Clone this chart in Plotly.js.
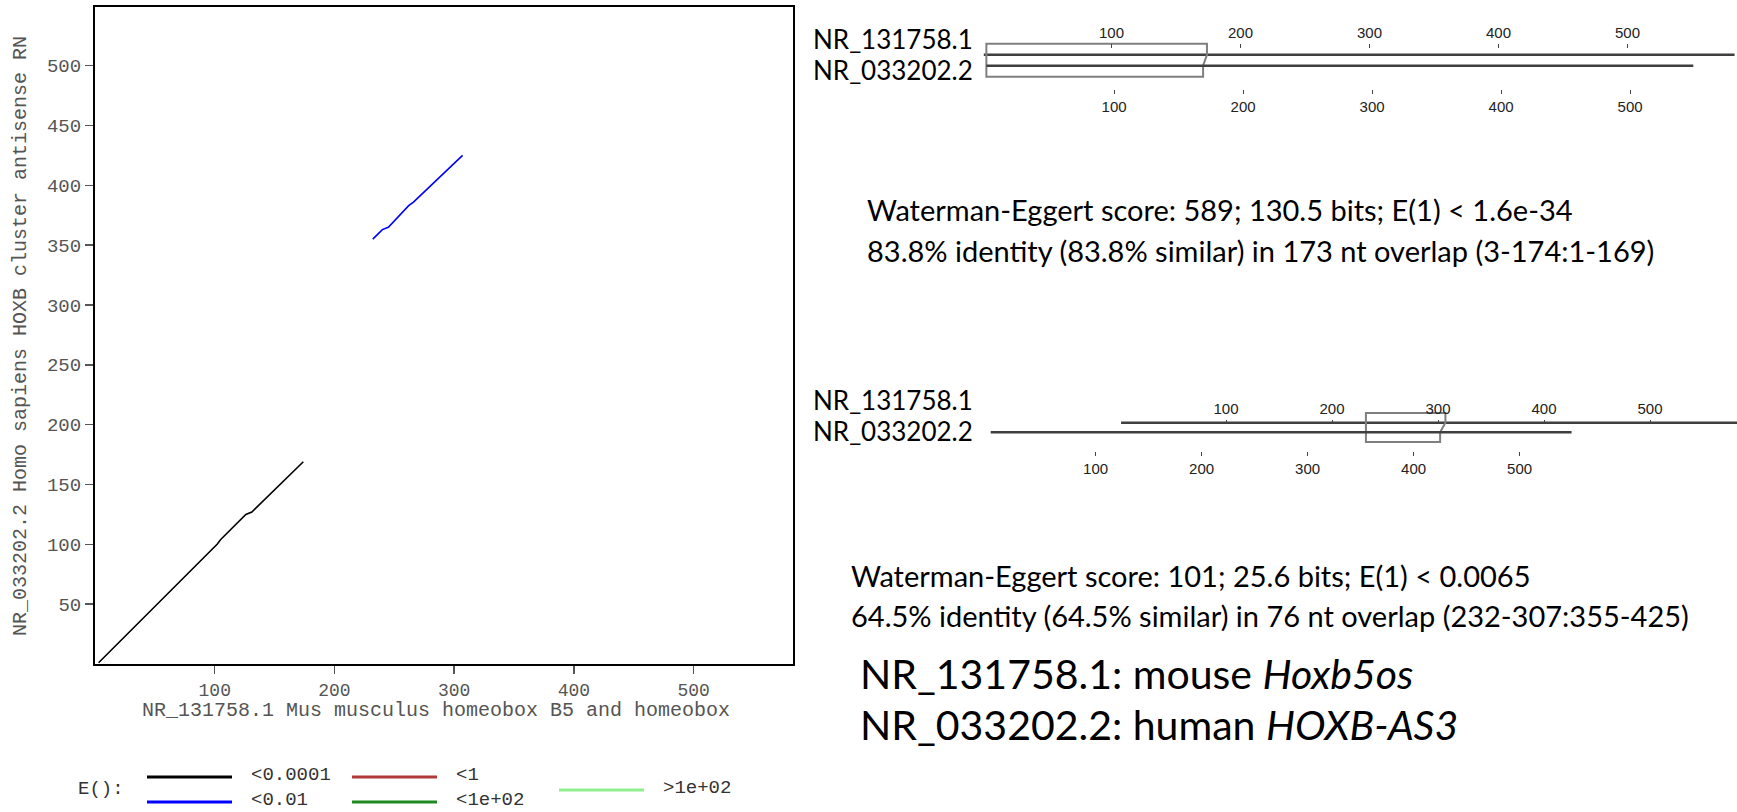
<!DOCTYPE html>
<html>
<head>
<meta charset="utf-8">
<script src="https://cdn.plot.ly/plotly-3.0.1.min.js"></script>
<style>
  html, body { margin: 0; padding: 0; background: #ffffff; }
  #plot { width: 1737px; height: 812px; }
</style>
</head>
<body>
<div id="plot"></div>
<script>
// ---- dot plot: NR_131758.1 (x) against NR_033202.2 (y) ----
const mouseLen = 583;
const humanLen = 549;
const hitBlackX = [3, 102, 105, 126, 131, 174];
const hitBlackY = [1, 100, 104, 125, 127, 169];
const hitBlueX = [232, 240, 245, 262, 266, 307];
const hitBlueY = [355, 363, 365, 383, 386, 425];
const dotTicksX = [100, 200, 300, 400, 500];
const dotTicksY = [50, 100, 150, 200, 250, 300, 350, 400, 450, 500];
const dotTitleX = 'NR_131758.1 Mus musculus homeobox B5 and homeobox';
const dotTitleY = 'NR_033202.2 Homo sapiens HOXB cluster antisense RN';

// E() colour key
const legendLabels = ['<0.0001', '<0.01', '<1', '<1e+02', '>1e+02'];
const legendColors = ['#000000', '#0000ff', '#b03a3a', '#1f8a1f', '#90ee90'];

// ---- alignment overviews ----
const seqNames = ['NR_131758.1', 'NR_033202.2'];
const seqLens = [583, 549];
const alnTop = [[3, 174], [232, 307]];
const alnBot = [[1, 169], [355, 425]];
const overviewTicks = [100, 200, 300, 400, 500];
const scoreText1 = ['Waterman-Eggert score: 589; 130.5 bits; E(1) < 1.6e-34',
                    '83.8% identity (83.8% similar) in 173 nt overlap (3-174:1-169)'];
const scoreText2 = ['Waterman-Eggert score: 101; 25.6 bits; E(1) < 0.0065',
                    '64.5% identity (64.5% similar) in 76 nt overlap (232-307:355-425)'];
const keyText = ['NR_131758.1: mouse <i>Hoxb5os</i>',
                 'NR_033202.2: human <i>HOXB-AS3</i>'];

// ---- page geometry (pixels) ----
const W = 1737, H = 812;
const px = v => v / W;
const py = v => 1 - v / H;

const MONO = 'Liberation Mono, Courier New, monospace';
const SANS = 'Lato, Liberation Sans, sans-serif';
const TICKSANS = 'Liberation Sans, Arial, sans-serif';

// overview panels: x origin (px of position 0), px per nt, row levels, tick rows, name rows
const panels = [
  { origin: 982.5, scale: 1.29, topRow: 52, botRow: 63.5, topTick: 48, botTick: 89, nameY: [39, 70] },
  { origin: 1120, scale: 1.06, topRow: 422.7, botRow: 432.3, topTick: 423.5, botTick: 451, nameY: [400, 431] }
];

const traces = [];
const layout = {
  width: W, height: H,
  margin: { l: 0, r: 0, t: 0, b: 0 },
  paper_bgcolor: '#ffffff', plot_bgcolor: 'rgba(0,0,0,0)',
  showlegend: false,
  xaxis: {
    domain: [px(95), px(793)], range: [0, mouseLen], anchor: 'y',
    showline: true, mirror: true, linecolor: '#000', linewidth: 2,
    showgrid: false, zeroline: false,
    ticks: 'outside', ticklen: 8, tickwidth: 1.5, tickcolor: '#555',
    tickvals: dotTicksX, tickfont: { family: MONO, size: 18, color: '#555' }
  },
  yaxis: {
    domain: [py(664), py(7)], range: [0, humanLen], anchor: 'x',
    showline: true, mirror: true, linecolor: '#000', linewidth: 2,
    showgrid: false, zeroline: false,
    ticks: 'outside', ticklen: 8, tickwidth: 1.5, tickcolor: '#555',
    tickvals: dotTicksY, tickfont: { family: MONO, size: 19, color: '#555' }
  },
  shapes: [],
  annotations: []
};

traces.push({ type: 'scatter', mode: 'lines', x: hitBlackX, y: hitBlackY, xaxis: 'x', yaxis: 'y',
  line: { color: legendColors[0], width: 1.6 }, hoverinfo: 'skip' });
traces.push({ type: 'scatter', mode: 'lines', x: hitBlueX, y: hitBlueY, xaxis: 'x', yaxis: 'y',
  line: { color: legendColors[1], width: 1.6 }, hoverinfo: 'skip' });

// axis titles of the dot plot
layout.annotations.push({ xref: 'paper', yref: 'paper', x: px(436), y: py(710), text: dotTitleX,
  showarrow: false, xanchor: 'center', yanchor: 'middle', font: { family: MONO, size: 20, color: '#555' } });
layout.annotations.push({ xref: 'paper', yref: 'paper', x: px(21), y: py(336), text: dotTitleY, textangle: -90,
  showarrow: false, xanchor: 'center', yanchor: 'middle', font: { family: MONO, size: 20, color: '#555' } });

// E() key: two rows of two entries, plus a fifth entry between the rows
const keyCols = [147, 352, 147, 352, 559];
const keyRows = [777, 777, 802, 802, 790];
const keyOrder = [0, 2, 1, 3, 4];
layout.annotations.push({ xref: 'paper', yref: 'paper', x: px(76), y: py(789), text: 'E():',
  showarrow: false, xanchor: 'left', yanchor: 'middle', font: { family: MONO, size: 19, color: '#333' } });
keyOrder.forEach((k, i) => {
  const x0 = keyCols[i], yy = keyRows[i];
  layout.shapes.push({ type: 'line', xref: 'paper', yref: 'paper', x0: px(x0), x1: px(x0 + 85), y0: py(yy), y1: py(yy),
    line: { color: legendColors[k], width: 3 } });
  layout.annotations.push({ xref: 'paper', yref: 'paper', x: px(x0 + 102), y: py(yy - 2), text: legendLabels[k],
    showarrow: false, xanchor: 'left', yanchor: 'middle', font: { family: MONO, size: 19, color: '#333' } });
});

// alignment overview panels
panels.forEach((p, i) => {
  const topAx = 2 + 2 * i, botAx = 3 + 2 * i, yAx = 2 + i;
  const shift = alnTop[i][0] - alnBot[i][0];
  const left = 980;
  const topRange = [(left - p.origin) / p.scale, (W - p.origin) / p.scale];
  const u = p.botRow - p.topRow;
  const tickStyle = {
    showgrid: false, zeroline: false, showline: false,
    ticks: 'outside', ticklen: 4, tickwidth: 1, tickcolor: '#444',
    tickvals: overviewTicks, tickfont: { family: TICKSANS, size: 15, color: '#222' }
  };
  layout['xaxis' + topAx] = Object.assign({
    domain: [px(left), 1], range: topRange, anchor: 'free', position: py(p.topTick), side: 'top'
  }, tickStyle);
  layout['xaxis' + botAx] = Object.assign({
    domain: [px(left), 1], range: [topRange[0] - shift, topRange[1] - shift], anchor: 'free',
    position: py(p.botTick), side: 'bottom'
  }, tickStyle);
  layout['yaxis' + yAx] = {
    domain: [py(p.botRow + 4 * u), py(p.topRow - 5 * u)], range: [-4, 6], anchor: 'x' + topAx,
    visible: false, fixedrange: true
  };
  const xa = 'x' + topAx, xb = 'x' + botAx, ya = 'y' + yAx;
  // sequence bars
  traces.push({ type: 'scatter', mode: 'lines', x: [1, seqLens[0]], y: [1, 1], xaxis: xa, yaxis: ya,
    line: { color: '#3f3f3f', width: 2.5 }, hoverinfo: 'skip' });
  traces.push({ type: 'scatter', mode: 'lines', x: [1, seqLens[1]], y: [0, 0], xaxis: xb, yaxis: ya,
    line: { color: '#3f3f3f', width: 2.5 }, hoverinfo: 'skip' });
  // aligned region outline (lower half given in the upper sequence's coordinates)
  const ts = alnTop[i][0], te = alnTop[i][1];
  const bs = alnBot[i][0] + shift, be = alnBot[i][1] + shift;
  traces.push({ type: 'scatter', mode: 'lines', xaxis: xa, yaxis: ya,
    x: [ts, ts, te, te, be, be, bs, bs, ts], y: [1, 2, 2, 1, 0, -1, -1, 0, 1],
    line: { color: '#7f7f7f', width: 2 }, hoverinfo: 'skip' });
  // sequence names
  seqNames.forEach((nm, j) => {
    layout.annotations.push({ xref: 'paper', yref: 'paper', x: px(975), y: py(p.nameY[j]), text: nm,
      showarrow: false, xanchor: 'right', yanchor: 'middle', font: { family: SANS, size: 26, color: '#000' } });
  });
});

// score summaries
const addLines = (lines, x0, ys, size) => lines.forEach((t, j) => {
  layout.annotations.push({ xref: 'paper', yref: 'paper', x: px(x0), y: py(ys[j]), text: t,
    showarrow: false, xanchor: 'left', yanchor: 'middle', font: { family: SANS, size: size, color: '#000' } });
});
addLines(scoreText1, 865, [210, 250], 29);
addLines(scoreText2, 849, [575, 615], 29);
addLines(keyText, 858, [673, 724], 41);

Plotly.newPlot('plot', traces, layout, { staticPlot: true, displayModeBar: false });
</script>
</body>
</html>
